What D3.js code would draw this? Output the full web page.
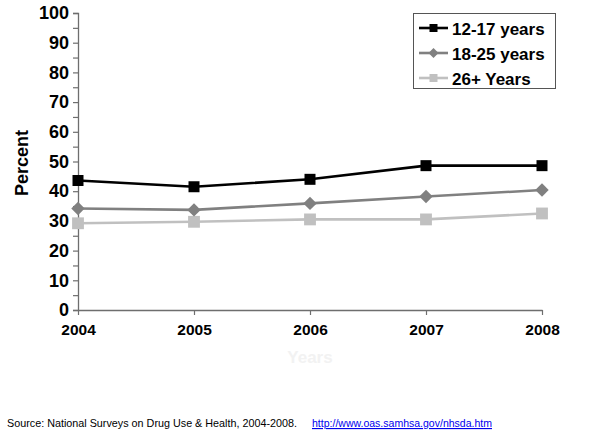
<!DOCTYPE html>
<html><head><meta charset="utf-8">
<script src="https://cdn.jsdelivr.net/npm/d3@7"></script>
<style>body{margin:0;background:#fff}svg{display:block;font-family:"Liberation Sans",Arial,sans-serif}</style>
</head><body>
<script>
const years = [2004, 2005, 2006, 2007, 2008];
const teen = [43.6, 41.5, 44.0, 48.6, 48.6];
const young = [34.2, 33.7, 35.9, 38.2, 40.4];
const adult = [29.2, 29.7, 30.5, 30.5, 32.5];
const seriesNames = ["12-17 years", "18-25 years", "26+ Years"];
const yTicks = [0, 10, 20, 30, 40, 50, 60, 70, 80, 90, 100];

const W = 600, H = 433;
const svg = d3.select("body").append("svg").attr("width", W).attr("height", H);
const x = d3.scalePoint().domain(years).range([78, 542]);
const y = d3.scaleLinear().domain([0, 100]).range([310, 13]);

const axisColor = "#6e6e6e";
// y axis
const ya = svg.append("g").attr("transform", "translate(78,0)")
  .call(d3.axisLeft(y).tickValues(d3.range(0, 101, 5)).tickSize(5).tickFormat(d => yTicks.includes(d) ? d : ""));
ya.select(".domain").attr("stroke", axisColor).attr("stroke-width", 1.3);
ya.selectAll(".tick line").attr("stroke", axisColor).attr("stroke-width", 1.2);
ya.selectAll(".tick text").attr("font-size", 18).attr("font-weight", "bold").attr("fill", "#000")
  .attr("x", -9).attr("font-family", "Liberation Sans, Arial, sans-serif");

// x axis
const xa = svg.append("g").attr("transform", "translate(0,310)")
  .call(d3.axisBottom(x).tickSize(5).tickSizeOuter(0));
xa.select(".domain").attr("stroke", axisColor).attr("stroke-width", 1.3);
xa.selectAll(".tick line").attr("stroke", axisColor).attr("stroke-width", 1.2);
xa.selectAll(".tick text").attr("font-size", 15.5).attr("font-weight", "bold").attr("fill", "#000")
  .attr("y", 14).attr("font-family", "Liberation Sans, Arial, sans-serif");

svg.append("text").attr("transform", "translate(28,163) rotate(-90)").attr("text-anchor", "middle")
  .attr("font-size", 18).attr("font-weight", "bold").text("Percent");
svg.append("text").attr("x", 310).attr("y", 363).attr("text-anchor", "middle")
  .attr("font-size", 17).attr("font-weight", "bold").attr("fill", "#f2f2f2").text("Years");

const series = [
  {name: seriesNames[0], vals: teen, color: "#000000", diamond: false, size: 121},
  {name: seriesNames[1], vals: young, color: "#808080", diamond: true, size: 90},
  {name: seriesNames[2], vals: adult, color: "#c0c0c0", diamond: false, size: 140}
];
const line = d3.line().x((d, i) => x(years[i])).y(d => y(d));
series.slice().reverse().forEach(s => {
  svg.append("path").attr("d", line(s.vals)).attr("fill", "none").attr("stroke", s.color).attr("stroke-width", 2.6);
  svg.selectAll(null).data(s.vals).enter().append("path")
    .attr("transform", (d, i) => `translate(${x(years[i])},${y(d)})` + (s.diamond ? " rotate(45)" : ""))
    .attr("d", d3.symbol().type(d3.symbolSquare).size(s.size)).attr("fill", s.color);
});

// legend
const lg = svg.append("g");
lg.append("rect").attr("x", 413.5).attr("y", 13.5).attr("width", 142).attr("height", 75)
  .attr("fill", "#fff").attr("stroke", "#555").attr("stroke-width", 1);
series.forEach((s, i) => {
  const cy = 28 + i * 25;
  lg.append("line").attr("x1", 419).attr("x2", 448).attr("y1", cy).attr("y2", cy).attr("stroke", s.color).attr("stroke-width", 2.6);
  lg.append("path").attr("transform", `translate(433.5,${cy})` + (s.diamond ? " rotate(45)" : ""))
    .attr("d", d3.symbol().type(d3.symbolSquare).size(s.diamond ? 50 : 64)).attr("fill", s.color);
  lg.append("text").attr("x", 452).attr("y", cy + 6.5).attr("font-size", 17).attr("font-weight", "bold").text(s.name);
});

// source
svg.append("text").attr("x", 7).attr("y", 427).attr("font-size", 11.3)
  .attr("textLength", 290).attr("lengthAdjust", "spacingAndGlyphs")
  .text("Source: National Surveys on Drug Use & Health, 2004-2008.");
svg.append("text").attr("x", 312).attr("y", 427).attr("font-size", 11.3)
  .attr("textLength", 180).attr("lengthAdjust", "spacingAndGlyphs")
  .attr("fill", "#0000ee").attr("text-decoration", "underline").text("http://www.oas.samhsa.gov/nhsda.htm");
</script>
</body></html>
